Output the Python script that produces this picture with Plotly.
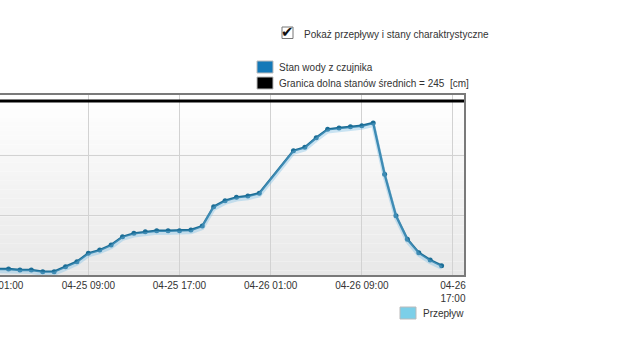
import plotly.graph_objects as go

# ---- data ----
times = [
    "2013-04-25 01:00", "2013-04-25 02:00", "2013-04-25 03:00", "2013-04-25 04:00",
    "2013-04-25 05:00", "2013-04-25 06:00", "2013-04-25 07:00", "2013-04-25 08:00",
    "2013-04-25 09:00", "2013-04-25 10:00", "2013-04-25 11:00", "2013-04-25 12:00",
    "2013-04-25 13:00", "2013-04-25 14:00", "2013-04-25 15:00", "2013-04-25 16:00",
    "2013-04-25 17:00", "2013-04-25 18:00", "2013-04-25 19:00", "2013-04-25 20:00",
    "2013-04-25 21:00", "2013-04-25 22:00", "2013-04-25 23:00", "2013-04-26 00:00",
    "2013-04-26 03:00", "2013-04-26 04:00", "2013-04-26 05:00", "2013-04-26 06:00",
    "2013-04-26 07:00", "2013-04-26 08:00", "2013-04-26 09:00", "2013-04-26 10:00",
    "2013-04-26 11:00", "2013-04-26 12:00", "2013-04-26 13:00", "2013-04-26 14:00",
    "2013-04-26 15:00", "2013-04-26 16:00",
]
water_level = [
    105.0, 105.0, 104.2, 104.2, 102.8, 102.8, 106.9, 111.1,
    118.1, 120.8, 125.0, 131.9, 134.7, 136.1, 136.9, 136.9,
    136.9, 137.5, 140.8, 156.9, 161.9, 164.7, 165.8, 168.1,
    203.6, 206.4, 214.4, 221.4, 222.5, 223.6, 224.4, 226.7,
    183.9, 149.4, 129.7, 118.6, 112.5, 107.8,
]
threshold = 245  # Granica dolna stanów średnich [cm]

tick_vals = ["2013-04-25 09:00", "2013-04-25 17:00", "2013-04-26 01:00",
             "2013-04-26 09:00", "2013-04-26 17:00"]
tick_text = ["04-25 09:00", "04-25 17:00", "04-26 01:00", "04-26 09:00", "04-26<br>17:00"]
cut_tick_text = "04-25 01:00"

legend_items = ["Stan wody z czujnika", "Granica dolna stanów średnich = 245  [cm]"]
checkbox_label = "Pokaż przepływy i stany charaktrystyczne"
flow_label = "Przepływ"

# ---- layout geometry (pixels) ----
W, H = 628, 352
L, R, T, B = 0, 628 - 464, 95, 352 - 275
PW, PH = W - L - R, H - T - B

def px(x):
    return (x - L) / PW

def py(y):
    return (H - B - y) / PH

LINE = "#1b6d96"
SHADOW = "rgba(120,190,230,0.38)"
FONT = "Liberation Sans"
TXT = "#333333"

fig = go.Figure()
# soft shadow (same data drawn slightly lower via an offset axis)
fig.add_trace(go.Scatter(x=times, y=water_level, mode="lines", yaxis="y2",
                         line=dict(color=SHADOW, width=4), hoverinfo="skip", showlegend=False))
fig.add_trace(go.Scatter(x=times, y=water_level, mode="lines+markers",
                         line=dict(color=LINE, width=2.4),
                         marker=dict(color=LINE, size=5), showlegend=False))

shapes = []
# gradient plot background
n = 40
for i in range(n):
    t = i / (n - 1)
    c = int(round(255 - t * (255 - 232)))
    shapes.append(dict(type="rect", xref="paper", yref="paper", x0=0, x1=1,
                       y0=1 - (i + 1) / n, y1=1 - i / n, layer="below",
                       line=dict(width=0), fillcolor=f"rgb({c},{c},{c})"))
# threshold line
shapes.append(dict(type="line", xref="paper", yref="y", x0=0, x1=1, y0=threshold, y1=threshold,
                   line=dict(color="black", width=3)))
# legend squares
def square(x0, y0, x1, y1, fill):
    shapes.append(dict(type="rect", xref="paper", yref="paper",
                       x0=px(x0), x1=px(x1), y0=py(y1), y1=py(y0),
                       line=dict(color="#bbbbbb", width=1), fillcolor=fill))
square(257, 61, 273, 73, "#1479b8")
square(257, 77, 273, 89, "#000000")
square(400, 307, 416, 319, "#7ccfe8")
# checkbox
shapes.append(dict(type="rect", xref="paper", yref="paper",
                   x0=px(282), x1=px(293), y0=py(38.5), y1=py(27),
                   line=dict(color="#777777", width=1), fillcolor="white"))

annotations = []
def label(x, y, text, anchor="left", size=10, family=FONT, color=TXT):
    annotations.append(dict(x=px(x), y=py(y), xref="paper", yref="paper", text=text,
                            showarrow=False, xanchor=anchor, yanchor="middle",
                            font=dict(family=family, size=size, color=color)))
label(302, 34, checkbox_label)
label(287.8, 32.5, "✔", anchor="center", size=15, family="DejaVu Sans", color="#111111")
label(277, 67, legend_items[0])
label(277, 83, legend_items[1])
label(421, 313, flow_label)
label(-2.8, 285, cut_tick_text, anchor="center")

fig.update_layout(
    width=W, height=H, margin=dict(l=L, r=R, t=T, b=B),
    paper_bgcolor="white", plot_bgcolor="white",
    shapes=shapes, annotations=annotations,
    xaxis=dict(type="date", range=["2013-04-25 01:15", "2013-04-26 17:58"],
               tickvals=tick_vals, ticktext=tick_text, ticks="",
               showgrid=True, gridcolor="#d2d2d2", gridwidth=1,
               showline=True, linecolor="#7a7a7a", linewidth=1.5, mirror=True,
               tickfont=dict(family=FONT, size=10, color=TXT), zeroline=False),
    yaxis=dict(range=[100, 250], tickvals=[100, 150, 200, 250], showticklabels=False,
               showgrid=True, gridcolor="#d2d2d2", gridwidth=1, ticks="",
               side="right", showline=True, linecolor="#7a7a7a", linewidth=1.5,
               zeroline=False),
    yaxis2=dict(range=[101.8, 251.8], overlaying="y", visible=False),
    hovermode=False,
)

fig.write_html("out.html")
